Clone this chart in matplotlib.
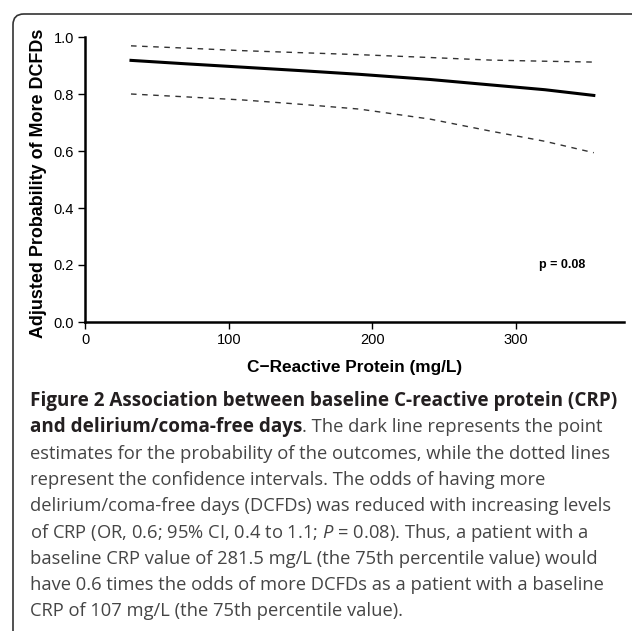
import matplotlib
matplotlib.use("Agg")
import matplotlib.pyplot as plt
from matplotlib.patches import FancyBboxPatch

# values
crp = [32, 70, 110, 150, 191, 240, 282, 320, 354]
prob = [0.918, 0.906, 0.894, 0.882, 0.869, 0.851, 0.832, 0.815, 0.795]
ci_upper = [0.969, 0.961, 0.952, 0.945, 0.938, 0.928, 0.919, 0.915, 0.912]
ci_lower = [0.800, 0.790, 0.779, 0.764, 0.747, 0.712, 0.670, 0.634, 0.594]
x_ticks = [0, 100, 200, 300]
y_ticks = [0.0, 0.2, 0.4, 0.6, 0.8, 1.0]
p_text = "p = 0.08"

W, H = 632, 631
plt.rcParams["font.family"] = ["Liberation Sans", "DejaVu Sans"]
plt.rcParams["mathtext.fontset"] = "custom"
plt.rcParams["mathtext.it"] = "Open Sans:italic"
plt.rcParams["mathtext.rm"] = "Open Sans"

fig = plt.figure(figsize=(W / 100, H / 100), dpi=100)

# rounded frame, open to the right and bottom
frame = FancyBboxPatch(
    (13 / W, -0.1), 1.2, 1 - 14 / H + 0.1,
    boxstyle="round,pad=0,rounding_size=0.017",
    transform=fig.transFigure, fill=False, edgecolor="#333333", linewidth=1.2,
)
fig.patches.append(frame)

ax = fig.add_axes([85 / W, 1 - 322 / H, (624 - 85) / W, (322 - 37) / H])

ax.plot(crp, prob, color="black", linewidth=2.2)
ax.plot(crp, ci_upper, color="#333333", linewidth=1.0, linestyle=(0, (4, 4)))
ax.plot(crp, ci_lower, color="#333333", linewidth=1.0, linestyle=(0, (4, 4)))

ax.set_xlim(0, 375)
ax.set_ylim(0, 1.0)
ax.set_xticks(x_ticks)
ax.set_yticks(y_ticks)
ax.set_xticklabels([str(t) for t in x_ticks], fontsize=10.5)
ax.set_yticklabels([f"{t:.1f}" for t in y_ticks], fontsize=10.5)
ax.spines["top"].set_visible(False)
ax.spines["right"].set_visible(False)
ax.spines["left"].set_linewidth(1.8)
ax.spines["bottom"].set_linewidth(1.8)
ax.tick_params(direction="out", length=5, width=1.0, pad=3)

ax.set_xlabel("C\u2212Reactive Protein (mg/L)", fontweight="bold", fontsize=12.4, labelpad=9)
ax.set_ylabel("Adjusted Probability of More DCFDs", fontweight="bold", fontsize=12.9)
ax.yaxis.set_label_coords(-0.07, 0.486)

ax.text(332, 0.20, p_text, ha="center", va="center", fontsize=9, fontweight="bold")

# caption
cap_font = "Open Sans"
x0 = 30 / W
dark = "#231f20"
grey = "#454545"
y_lines = [401 + 26.3 * i for i in range(9)]

t1 = fig.text(x0, 1 - y_lines[0] / H, "Figure 2 Association between baseline C-reactive protein (CRP)",
              family=cap_font, fontweight="bold", fontsize=12, color=dark, va="center")
probe = fig.text(x0, 0.5, "delirium/coma-free days (DCFDs) was reduced with increasing levels",
                 family=cap_font, fontsize=12)
fig.canvas.draw()
bold_size = 12 * 587 / t1.get_window_extent().width
body_size = 12 * 580 / probe.get_window_extent().width
probe.remove()
t1.set_fontsize(bold_size)

t2 = fig.text(x0, 1 - y_lines[1] / H, "and delirium/coma-free days", family=cap_font,
              fontweight="bold", fontsize=bold_size, color=dark, va="center")
fig.canvas.draw()
bb = t2.get_window_extent()
fig.text(bb.x1 / W, 1 - y_lines[1] / H, ". The dark line represents the point",
         family=cap_font, fontsize=body_size, color=grey, va="center")

body = [
    "estimates for the probability of the outcomes, while the dotted lines",
    "represent the confidence intervals. The odds of having more",
    "delirium/coma-free days (DCFDs) was reduced with increasing levels",
    "of CRP (OR, 0.6; 95% CI, 0.4 to 1.1; $\\it{P}$ = 0.08). Thus, a patient with a",
    "baseline CRP value of 281.5 mg/L (the 75th percentile value) would",
    "have 0.6 times the odds of more DCFDs as a patient with a baseline",
    "CRP of 107 mg/L (the 75th percentile value).",
]
for line, y in zip(body, y_lines[2:]):
    fig.text(x0, 1 - y / H, line, family=cap_font, fontsize=body_size,
             color=grey, va="center")

fig.savefig("out.png", dpi=100)
